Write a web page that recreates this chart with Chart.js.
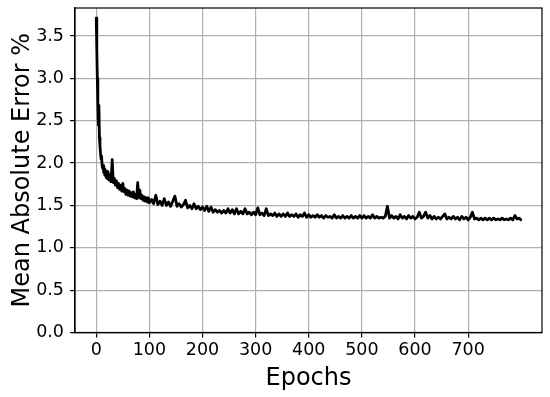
<!DOCTYPE html>
<html>
<head>
<meta charset="utf-8">
<script src="https://cdn.jsdelivr.net/npm/chart.js@4/dist/chart.umd.min.js"></script>
<style>
  html, body { margin: 0; padding: 0; background: #ffffff; }
  #wrap { width: 550px; height: 397px; }
</style>
</head>
<body>
<div id="wrap"><canvas id="c" width="550" height="397"></canvas></div>
<script>
const epochs = [
  0,1,2,3,4,5,6,7,8,9,10,11,12,13,14,15,16,17,18,19,20,
  22,24,26,28,30,32,34,36,38,40,42,44,46,48,50,52,54,56,58,60,
  62,64,66,68,70,72,74,76,78,80,82,84,86,88,90,92,94,96,98,100,
  104,108,112,116,120,124,128,132,136,140,144,148,152,156,160,164,168,172,176,180,184,188,192,196,200,
  204,208,212,216,220,224,228,232,236,240,244,248,252,256,260,264,268,272,276,280,284,288,292,296,300,
  304,308,312,316,320,324,328,332,336,340,344,348,352,356,360,364,368,372,376,380,384,388,392,396,400,
  404,408,412,416,420,424,428,432,436,440,444,448,452,456,460,464,468,472,476,480,484,488,492,496,500,
  504,508,512,516,520,524,528,532,536,540,544,548,552,556,560,564,568,572,576,580,584,588,592,596,600,
  604,608,612,616,620,624,628,632,636,640,644,648,652,656,660,664,668,672,676,680,684,688,692,696,700,
  704,708,712,716,720,724,728,732,736,740,744,748,752,756,760,764,768,772,776,780,784,788,792,796,799
];
const mae = [
  3.71,3.35,3.00,2.70,2.45,2.68,2.30,2.20,2.12,2.05,2.08,1.97,1.94,1.97,1.89,1.93,1.86,1.91,1.84,1.89,1.82,
  1.90,1.80,1.86,1.78,2.04,1.77,1.82,1.74,1.79,1.71,1.76,1.69,1.74,1.67,1.76,1.66,1.70,1.63,1.68,1.62,
  1.67,1.61,1.65,1.60,1.66,1.59,1.63,1.58,1.77,1.59,1.68,1.58,1.62,1.56,1.60,1.55,1.59,1.54,1.59,1.53,
  1.57,1.52,1.62,1.51,1.55,1.50,1.58,1.50,1.54,1.49,1.55,1.61,1.49,1.52,1.48,1.51,1.56,1.47,1.50,1.46,1.52,1.46,1.49,1.45,1.48,
  1.44,1.49,1.43,1.48,1.42,1.45,1.42,1.44,1.41,1.44,1.41,1.46,1.41,1.45,1.40,1.46,1.40,1.43,1.40,1.46,1.40,1.42,1.39,1.42,1.39,
  1.47,1.39,1.41,1.38,1.46,1.38,1.40,1.38,1.41,1.37,1.40,1.37,1.40,1.37,1.41,1.37,1.39,1.37,1.40,1.36,1.39,1.37,1.41,1.36,1.39,
  1.36,1.38,1.36,1.39,1.36,1.38,1.35,1.38,1.36,1.37,1.35,1.39,1.35,1.37,1.35,1.38,1.35,1.37,1.35,1.38,1.35,1.37,1.35,1.38,1.35,
  1.38,1.35,1.37,1.35,1.39,1.35,1.37,1.35,1.36,1.35,1.37,1.49,1.35,1.38,1.35,1.37,1.34,1.39,1.35,1.37,1.34,1.38,1.35,1.37,1.34,
  1.36,1.42,1.35,1.37,1.42,1.35,1.38,1.34,1.37,1.34,1.36,1.34,1.37,1.40,1.34,1.36,1.34,1.37,1.34,1.36,1.33,1.37,1.34,1.36,1.33,
  1.36,1.42,1.34,1.35,1.33,1.35,1.33,1.35,1.33,1.35,1.33,1.35,1.33,1.34,1.33,1.35,1.33,1.34,1.33,1.35,1.33,1.38,1.34,1.35,1.33
];
const xTicks = [0,100,200,300,400,500,600,700];
const yTicks = [0,0.5,1.0,1.5,2.0,2.5,3.0,3.5];
const xLabel = 'Epochs';
const yLabel = 'Mean Absolute Error %';

const points = epochs.map((e, i) => ({x: e, y: mae[i]}));
const FONT = 'DejaVu Sans';

const frame = {
  id: 'frame',
  afterDraw(chart) {
    const {ctx, chartArea: a} = chart;
    ctx.save();
    ctx.strokeStyle = '#000000';
    ctx.lineWidth = 1.2;
    ctx.strokeRect(a.left, a.top, a.right - a.left, a.bottom - a.top);
    ctx.restore();
  }
};

new Chart(document.getElementById('c'), {
  type: 'line',
  data: {
    datasets: [{
      data: points,
      borderColor: '#000000',
      borderWidth: 2.8,
      borderJoinStyle: 'round',
      borderCapStyle: 'round',
      pointRadius: 0,
      tension: 0,
      fill: false
    }]
  },
  options: {
    responsive: false,
    animation: false,
    layout: { padding: { top: 8, right: 8, left: 0, bottom: 0 } },
    plugins: { legend: { display: false }, tooltip: { enabled: false } },
    scales: {
      x: {
        type: 'linear',
        min: -40,
        max: 839,
        afterFit: s => { s.height = 64.5; s.paddingLeft = 0; s.paddingRight = 0; },
        afterBuildTicks: s => { s.ticks = xTicks.map(v => ({value: v})); },
        grid: { color: '#b0b0b0', lineWidth: 1.2, tickLength: 5, tickColor: '#000000' },
        border: { display: true, color: '#000000', width: 1.2 },
        ticks: { font: { family: FONT, size: 17.5 }, color: '#000000', padding: 2, maxRotation: 0, callback: v => String(v) },
        title: { display: true, text: xLabel, font: { family: FONT, size: 24 }, color: '#000000', padding: { top: 0, bottom: 4 } }
      },
      y: {
        type: 'linear',
        min: 0,
        max: 3.83,
        afterFit: s => { s.width = 75; s.paddingTop = 0; s.paddingBottom = 0; },
        afterBuildTicks: s => { s.ticks = yTicks.map(v => ({value: v})); },
        grid: { color: '#b0b0b0', lineWidth: 1.2, tickLength: 5, tickColor: '#000000' },
        border: { display: true, color: '#000000', width: 1.2 },
        ticks: { font: { family: FONT, size: 17.5 }, color: '#000000', padding: 6, callback: v => Number(v).toFixed(1) },
        title: { display: true, text: yLabel, font: { family: FONT, size: 24 }, color: '#000000', padding: { top: 8, bottom: 0 } }
      }
    }
  },
  plugins: [frame]
});
</script>
</body>
</html>
